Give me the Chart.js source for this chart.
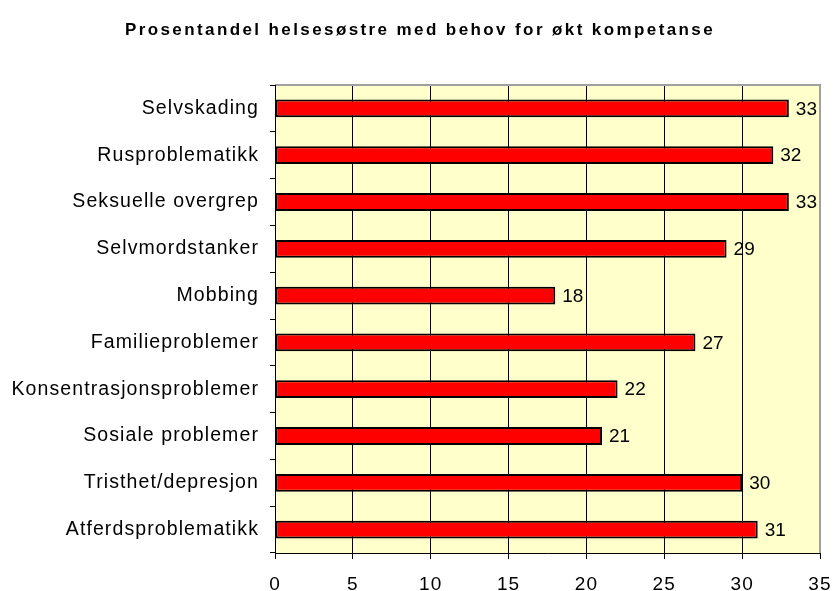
<!DOCTYPE html>
<html>
<head>
<meta charset="utf-8">
<script src="https://cdn.jsdelivr.net/npm/chart.js@4"></script>
<style>
html,body{margin:0;padding:0;background:#fff;}
#wrap{width:834px;height:591px;}
</style>
</head>
<body>
<div id="wrap"><canvas id="c" width="834" height="591"></canvas></div>
<script>
const titleText = 'Prosentandel helsesøstre med behov for økt kompetanse';
const categories = ['Selvskading','Rusproblematikk','Seksuelle overgrep','Selvmordstanker','Mobbing','Familieproblemer','Konsentrasjonsproblemer','Sosiale problemer','Tristhet/depresjon','Atferdsproblematikk'];
const values = [33,32,33,29,18,27,22,21,30,31];
const xTicks = [0,5,10,15,20,25,30,35];

const FONT = "'Liberation Sans', Arial, sans-serif";

const spacingPlugin = {
  id: 'spacing',
  beforeUpdate(chart){ chart.ctx.letterSpacing = '1.1px'; },
  beforeDraw(chart){
    const ctx = chart.ctx, a = chart.chartArea;
    ctx.letterSpacing = '1.1px';
    ctx.save();
    ctx.fillStyle = '#FFFFCC';
    ctx.fillRect(a.left, a.top, a.right - a.left, a.bottom - a.top);
    ctx.restore();
  },
  afterDatasetsDraw(chart){
    const ctx = chart.ctx;
    const meta = chart.getDatasetMeta(0);
    ctx.save();
    ctx.font = '19px ' + FONT;
    ctx.letterSpacing = '0px';
    ctx.fillStyle = '#000';
    ctx.textBaseline = 'middle';
    ctx.textAlign = 'left';
    meta.data.forEach((bar, i) => {
      ctx.fillText(String(values[i]), bar.x + 7, bar.y + 1);
    });
    ctx.restore();
  },
  afterDraw(chart){
    const ctx = chart.ctx, a = chart.chartArea;
    ctx.save();
    ctx.strokeStyle = '#A0A0A0';
    ctx.lineWidth = 2;
    ctx.beginPath();
    ctx.moveTo(a.left, a.top);
    ctx.lineTo(a.right, a.top);
    ctx.lineTo(a.right, a.bottom);
    ctx.stroke();
    ctx.strokeStyle = '#000';
    ctx.lineWidth = 1;
    ctx.beginPath();
    ctx.moveTo(a.left + 0.5, a.top);
    ctx.lineTo(a.left + 0.5, a.bottom + 0.5);
    ctx.lineTo(a.right, a.bottom + 0.5);
    ctx.stroke();
    ctx.font = 'bold 17px ' + FONT;
    ctx.letterSpacing = '2.4px';
    ctx.fillStyle = '#000';
    ctx.textAlign = 'center';
    ctx.textBaseline = 'middle';
    ctx.fillText(titleText, 420, 30);
    ctx.restore();
  }
};

new Chart(document.getElementById('c'), {
  type: 'bar',
  data: {
    labels: categories,
    datasets: [{
      data: values,
      backgroundColor: '#FF0000',
      borderColor: '#000000',
      borderWidth: 2,
      borderSkipped: false,
      categoryPercentage: 1,
      barPercentage: 0.38
    }]
  },
  options: {
    indexAxis: 'y',
    responsive: false,
    animation: false,
    devicePixelRatio: 1,
    layout: { padding: { top: 85, right: 14, left: 0, bottom: 0 } },
    plugins: {
      legend: { display: false },
      title: { display: false },
      tooltip: { enabled: false }
    },
    scales: {
      x: {
        min: 0, max: 35,
        afterBuildTicks(scale){ scale.ticks = xTicks.map(v => ({value: v})); },
        afterFit(scale){ scale.height = 38; scale.paddingRight = 0; scale.paddingLeft = 0; },
        border: { display: false },
        grid: {
          color: (c) => c.tick && c.tick.value === 35 ? '#A0A0A0' : '#000',
          lineWidth: 1,
          drawTicks: true,
          tickLength: 6,
          tickColor: '#000'
        },
        ticks: {
          color: '#000',
          font: { family: FONT, size: 19 },
          padding: 14,
          maxRotation: 0
        }
      },
      y: {
        afterFit(scale){ scale.width = 275; scale.paddingTop = 0; scale.paddingBottom = 0; },
        border: { display: false },
        grid: {
          offset: true,
          drawOnChartArea: false,
          drawTicks: true,
          tickLength: 5,
          tickColor: '#000',
          color: '#000'
        },
        ticks: {
          color: '#000',
          font: { family: FONT, size: 19.5 },
          padding: 11,
          autoSkip: false
        }
      }
    }
  },
  plugins: [spacingPlugin]
});
</script>
</body>
</html>
